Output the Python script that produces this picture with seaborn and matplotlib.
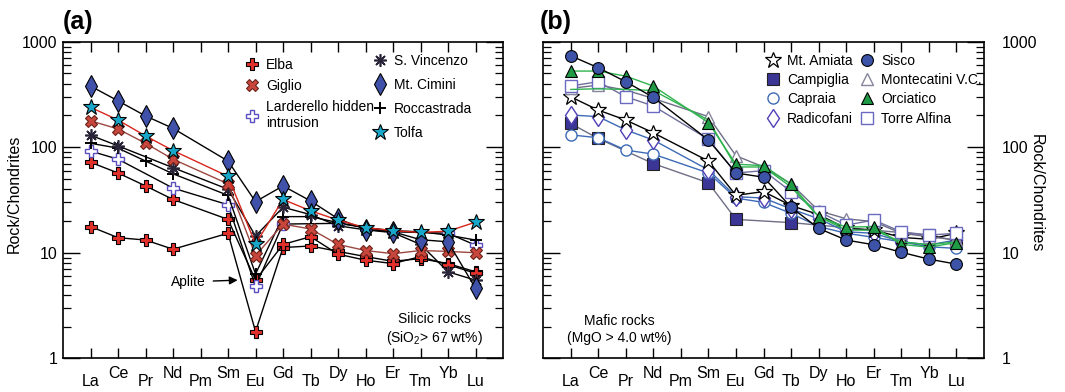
import numpy as np
import pandas as pd
import matplotlib
matplotlib.use("Agg")
import matplotlib.pyplot as plt
from matplotlib.lines import Line2D
from matplotlib.ticker import LogLocator, NullFormatter
import seaborn as sns

nan = np.nan

elements = ["La", "Ce", "Pr", "Nd", "Pm", "Sm", "Eu", "Gd", "Tb", "Dy", "Ho", "Er", "Tm", "Yb", "Lu"]

# (a) silicic rocks
elba = [72, 57, 43, 32, nan, 20.7, 5.5, 12, 14.2, 9.7, 8.5, 7.9, 9.2, 7.7, 6.4]
elba_aplite = [17.7, 13.9, 13.2, 10.8, nan, 15.3, 1.79, 11.2, 11.6, 10.3, 9.2, 8.3, 8.8, 7.9, 6.6]
giglio = [178, 149, 109, 77, nan, 45, 9.4, 18.7, 16.8, 12.0, 10.5, 9.8, 10.5, 10.3, 10.0]
larderello = [92, 77, nan, 41, nan, 28.5, 4.8, 18.7, nan, 19, nan, 15.8, nan, 15.3, 11.8]
s_vincenzo = [130, 103, nan, 64, nan, 40, 14.4, 27, 23, 18, 16.5, 15.5, 12, 6.6, 5.5]
mt_cimini = [380, 275, 198, 151, nan, 74, 30.5, 43, 31, 21, 16.6, 15.8, 13.3, 12.7, 4.6]
roccastrada = [109, 98, 74, 56, nan, 35, 6.3, 22, 22, 19.3, 17.3, 16.2, 15.8, 14.7, 13.2]
tolfa = [239, 181, 128, 93, nan, 53, 12.1, 32, 25, 20.4, 17.3, 16.2, 15.6, 16, 19.5]

# (b) mafic rocks
mt_amiata = [301, 225, 181, 137, nan, 74, 35, 38, 28, 23, 17, 16.4, 14, 13.4, 15.3]
campiglia = [168, 121, nan, 70, nan, 46, 20.7, nan, 19.3, nan, nan, nan, nan, 14.7, 13.0]
capraia = [131, 123, 94, 86, nan, 57, 33, 30, 23.6, 17.7, 15.3, 14, 12.7, 11.4, 11.0]
radicofani = [202, 195, 146, 117, nan, 61, 34, 33, 26, 21, 15.8, 15.3, 12.7, 11.9, 13.2]
sisco = [736, 567, 418, 297, nan, 117, 57, 52, 27, 17, 13.2, 11.9, 10.1, 8.7, 7.8]
montecatini = [361, 388, 348, 290, nan, 195, 83, 65, 45, 25, 21, 19.7, 15.3, 14.2, 13.2]
orciatico = [527, 527, 472, 380, nan, 171, 69, 67, 44.5, 22, 17.5, 17.7, 12, 11.3, 12.5]
orciatico_2 = [353, 358, 353, 345, nan, 181, 65, 65, 42, 22, 16.4, 16.4, 12.7, 11.9, 12.7]
torre_alfina = [380, 418, 301, 246, nan, 119, 57, 60, 38, 24.5, 18.3, 20.4, 15.8, 14.7, 15.3]

sns.set_theme(style="ticks")
plt.rcParams["font.family"] = ["Liberation Sans", "DejaVu Sans"]
plt.rcParams["mathtext.fontset"] = "custom"
plt.rcParams["mathtext.rm"] = "Liberation Sans"
plt.rcParams["mathtext.it"] = "Liberation Sans:italic"
for key in ["text.color", "axes.labelcolor", "xtick.color", "ytick.color", "axes.edgecolor"]:
    plt.rcParams[key] = "black"

# marker styles per suite
styles = {
    "Elba": dict(marker="P", markersize=8.5, markerfacecolor="#e2302a", markeredgecolor="black", markeredgewidth=0.8),
    "Giglio": dict(marker="X", markersize=9, markerfacecolor="#c9463c", markeredgecolor="#6b221b", markeredgewidth=0.8),
    "Larderello hidden\nintrusion": dict(marker="P", markersize=8.5, markerfacecolor="white", markeredgecolor="#5b4fc0", markeredgewidth=1.0),
    "S. Vincenzo": dict(marker=(8, 2, 0), markersize=9, markerfacecolor="#2a2438", markeredgecolor="#2a2438", markeredgewidth=1.2),
    "Mt. Cimini": dict(marker="d", markersize=11, markerfacecolor="#3f51a8", markeredgecolor="black", markeredgewidth=0.8),
    "Roccastrada": dict(marker="+", markersize=9, markerfacecolor="black", markeredgecolor="black", markeredgewidth=1.4),
    "Tolfa": dict(marker="*", markersize=12, markerfacecolor="#19a7c9", markeredgecolor="black", markeredgewidth=0.8),
    "Mt. Amiata": dict(marker="*", markersize=12, markerfacecolor="white", markeredgecolor="black", markeredgewidth=0.9),
    "Campiglia": dict(marker="s", markersize=8, markerfacecolor="#3b3596", markeredgecolor="#222222", markeredgewidth=0.8),
    "Capraia": dict(marker="o", markersize=8, markerfacecolor="white", markeredgecolor="#3d6ab5", markeredgewidth=1.0),
    "Radicofani": dict(marker="d", markersize=9.5, markerfacecolor="white", markeredgecolor="#5040b8", markeredgewidth=1.0),
    "Sisco": dict(marker="o", markersize=8.5, markerfacecolor="#3d53a8", markeredgecolor="black", markeredgewidth=0.8),
    "Montecatini V.C.": dict(marker="^", markersize=8.5, markerfacecolor="white", markeredgecolor="#85859c", markeredgewidth=1.0),
    "Orciatico": dict(marker="^", markersize=8.5, markerfacecolor="#1f9a45", markeredgecolor="black", markeredgewidth=0.8),
    "Torre Alfina": dict(marker="s", markersize=8, markerfacecolor="white", markeredgecolor="#6a6ac0", markeredgewidth=1.0),
}

# (values, suite, line colour)
series_a = [
    (elba_aplite, "Elba", "black"),
    (elba, "Elba", "black"),
    (larderello, "Larderello hidden\nintrusion", "black"),
    (roccastrada, "Roccastrada", "black"),
    (s_vincenzo, "S. Vincenzo", "black"),
    (giglio, "Giglio", "#9c4740"),
    (mt_cimini, "Mt. Cimini", "black"),
    (tolfa, "Tolfa", "#d8261c"),
]
series_b = [
    (campiglia, "Campiglia", "#6e6e86"),
    (capraia, "Capraia", "#3d6ab5"),
    (radicofani, "Radicofani", "#3d6ab5"),
    (mt_amiata, "Mt. Amiata", "black"),
    (montecatini, "Montecatini V.C.", "#6e6e86"),
    (torre_alfina, "Torre Alfina", "#6e6e9e"),
    (orciatico_2, None, "#2fb34e"),
    (orciatico, "Orciatico", "#2fb34e"),
    (sisco, "Sisco", "black"),
]


def draw_series(ax, series):
    for vals, suite, lc in series:
        df = pd.DataFrame({"idx": np.arange(len(elements)), "val": vals}).dropna()
        kws = dict(styles[suite]) if suite else dict(marker="None")
        sns.lineplot(data=df, x="idx", y="val", ax=ax, color=lc, lw=1.0, sort=False,
                     estimator=None, legend=False, **kws)


def style_axes(ax, right=False):
    ax.set_yscale("log")
    ax.set_ylim(1, 1000)
    ax.set_xlim(-1, 15)
    ax.set_xlabel("")
    ax.set_ylabel("")
    even = np.arange(0, len(elements), 2)
    odd = np.arange(1, len(elements), 2)
    ax.set_xticks(even)
    ax.set_xticklabels([elements[i] for i in even])
    ax.set_xticks(odd, minor=True)
    ax.set_xticklabels([elements[i] for i in odd], minor=True)
    ax.tick_params(axis="x", which="major", direction="in", length=7, width=1, top=True, pad=11, labelsize=11.5)
    ax.tick_params(axis="x", which="minor", direction="in", length=7, width=1, top=True, pad=5.5, labelsize=11.5)
    ax.yaxis.set_major_locator(LogLocator(base=10, numticks=10))
    ax.yaxis.set_minor_locator(LogLocator(base=10, subs=np.arange(2, 10), numticks=10))
    ax.yaxis.set_minor_formatter(NullFormatter())
    ax.set_yticks([1, 10, 100, 1000])
    ax.set_yticklabels(["1", "10", "100", "1000"])
    if right:
        ax.tick_params(axis="y", which="major", direction="in", length=12, width=1, left=True, right=True,
                       labelleft=False, labelright=True, pad=13, labelsize=11.5)
    else:
        ax.tick_params(axis="y", which="major", direction="in", length=12, width=1, left=True, right=True,
                       pad=4, labelsize=11.5)
    ax.tick_params(axis="y", which="minor", direction="in", length=6, width=0.9, left=True, right=True)
    for sp in ax.spines.values():
        sp.set_linewidth(1.2)
        sp.set_color("black")


def legend_handle(suite):
    return Line2D([], [], ls="none", **styles[suite])


fig = plt.figure(figsize=(10.65, 3.92), dpi=100)
ax_a = fig.add_axes([0.0592, 0.0860, 0.4131, 0.8076])
ax_b = fig.add_axes([0.5099, 0.0860, 0.4141, 0.8076])

draw_series(ax_a, series_a)
draw_series(ax_b, series_b)
style_axes(ax_a)
style_axes(ax_b, right=True)

ax_a.set_ylabel("Rock/Chondrites", fontsize=11.5, va="center")
ax_a.yaxis.set_label_coords(-0.11, 0.52)
ax_b.set_ylabel("Rock/Chondrites", fontsize=11.5, rotation=270, va="center")
ax_b.yaxis.set_label_position("right")
ax_b.yaxis.set_label_coords(1.135, 0.52)

leg_opts = dict(frameon=False, fontsize=10, handlelength=1.0, handletextpad=0.5,
                borderpad=0, borderaxespad=0, loc="upper left")
names_a1 = ["Elba", "Giglio", "Larderello hidden\nintrusion"]
names_a2 = ["S. Vincenzo", "Mt. Cimini", "Roccastrada", "Tolfa"]
leg1 = ax_a.legend([legend_handle(n) for n in names_a1], names_a1, bbox_to_anchor=(0.414, 0.948),
                   labelspacing=0.5, **leg_opts)
ax_a.add_artist(leg1)
ax_a.legend([legend_handle(n) for n in names_a2], names_a2, bbox_to_anchor=(0.705, 0.962),
            labelspacing=0.72, **leg_opts)

names_b1 = ["Mt. Amiata", "Campiglia", "Capraia", "Radicofani"]
names_b2 = ["Sisco", "Montecatini V.C.", "Orciatico", "Torre Alfina"]
leg3 = ax_b.legend([legend_handle(n) for n in names_b1], names_b1, bbox_to_anchor=(0.506, 0.962),
                   labelspacing=0.38, **leg_opts)
ax_b.add_artist(leg3)
ax_b.legend([legend_handle(n) for n in names_b2], names_b2, bbox_to_anchor=(0.719, 0.962),
            labelspacing=0.38, **leg_opts)

ax_a.text(0.845, 0.091, "Silicic rocks\n(SiO$_2$> 67 wt%)", transform=ax_a.transAxes,
          ha="center", va="center", multialignment="center", fontsize=10)
ax_b.text(0.172, 0.091, "Mafic rocks\n(MgO > 4.0 wt%)", transform=ax_b.transAxes,
          ha="center", va="center", multialignment="center", fontsize=10)

ax_a.annotate("Aplite", xy=(5.35, 5.5), xytext=(3.56, 5.3), ha="center", va="center", fontsize=10,
              arrowprops=dict(arrowstyle="-|>", color="black", lw=1.0, mutation_scale=12, shrinkA=3, shrinkB=0))

fig.text(0.0592, 0.944, "(a)", fontsize=18, fontweight="bold", ha="left", va="center")
fig.text(0.5070, 0.944, "(b)", fontsize=18, fontweight="bold", ha="left", va="center")

fig.savefig("out.png", dpi=100)
